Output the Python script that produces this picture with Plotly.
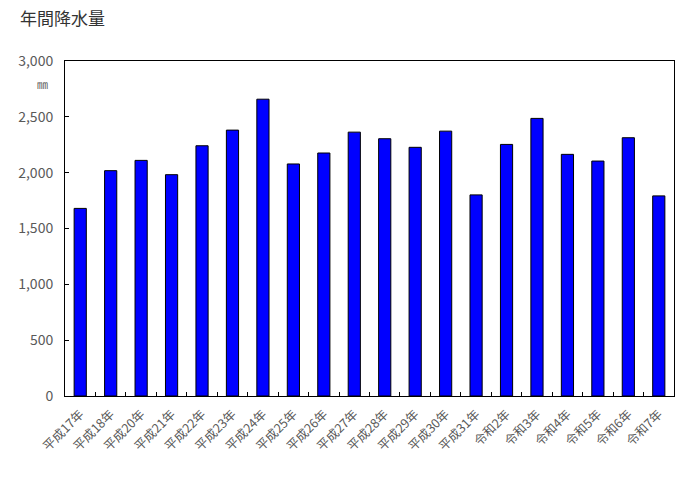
import plotly.graph_objects as go

categories = ["平成17年", "平成18年", "平成20年", "平成21年", "平成22年", "平成23年", "平成24年",
              "平成25年", "平成26年", "平成27年", "平成28年", "平成29年", "平成30年", "平成31年",
              "令和2年", "令和3年", "令和4年", "令和5年", "令和6年", "令和7年"]
precip_mm = [1680, 2018, 2110, 1982, 2241, 2381, 2658, 2078, 2176, 2363,
             2304, 2227, 2372, 1801, 2253, 2486, 2164, 2104, 2313, 1792]
y_tick_vals = [0, 500, 1000, 1500, 2000, 2500, 3000]
y_tick_text = ["0", "500", "1,000", "1,500", "2,000", "2,500", "3,000"]

FONT = "Noto Sans CJK JP"

fig = go.Figure(go.Bar(
    x=categories, y=precip_mm,
    marker=dict(color="#0000FF", line=dict(color="#000000", width=1)),
))

fig.update_layout(
    width=690, height=479,
    margin=dict(l=65, r=16, t=61, b=83, autoexpand=False),
    paper_bgcolor="white", plot_bgcolor="white",
    bargap=0.6, showlegend=False,
    font=dict(family=FONT, size=12, color="#595959"),
    title=dict(text="年間降水量", xref="container", yref="container",
               x=20/690, y=1 - 19/479, xanchor="left", yanchor="middle",
               font=dict(family=FONT, size=17, color="#333333")),
    annotations=[
        dict(text="㎜", xref="paper", yref="paper", x=-15/609, y=1 - 23/335,
             xanchor="right", yanchor="middle", showarrow=False,
             font=dict(family=FONT, size=11, color="#595959")),
    ],
)

fig.update_xaxes(
    type="category", tickangle=-45, tickson="boundaries", automargin=False,
    ticks="inside", ticklen=4, tickcolor="#000000", ticklabelstandoff=5,
    showline=True, linecolor="#000000", linewidth=1, mirror=True,
    showgrid=False, tickfont=dict(family=FONT, size=12.5, color="#595959"),
)
fig.update_yaxes(
    range=[0, 3000], tickvals=y_tick_vals, ticktext=y_tick_text, automargin=False,
    ticks="inside", ticklen=4, tickcolor="#000000", ticklabelstandoff=8,
    showline=True, linecolor="#000000", linewidth=1, mirror=True,
    showgrid=False, zeroline=False, tickfont=dict(family=FONT, size=14, color="#595959"),
)

# remove the default page margin so the figure fills the window exactly
fig.write_html("out.html", config={"displayModeBar": False},
               post_script="document.body.style.margin='0';")
